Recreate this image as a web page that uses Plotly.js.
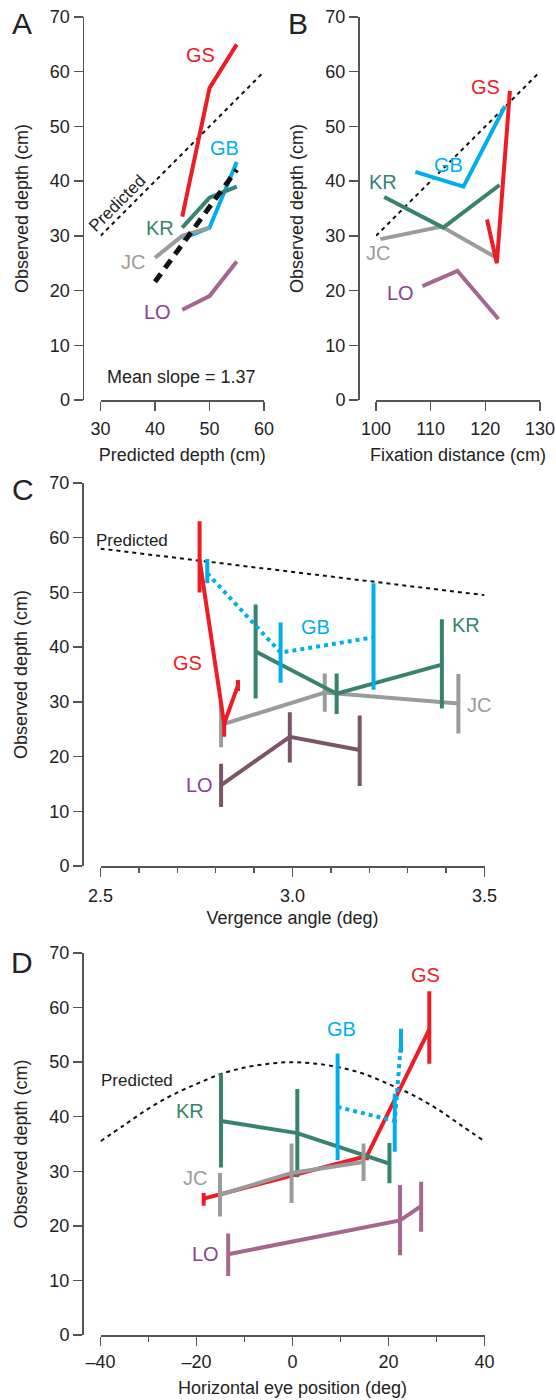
<!DOCTYPE html>
<html>
<head>
<meta charset="utf-8">
<script src="https://cdn.plot.ly/plotly-3.0.1.min.js"></script>
<style>html,body{margin:0;padding:0;background:#fff}#chart{width:556px;height:1400px}</style>
</head>
<body>
<div id="chart"></div>
<script>
// ---------- Panel A: observed vs predicted depth ----------
const aPredX = [30, 60];
const aPredY = [30, 60];
const aMeanX = [40, 55];
const aMeanY = [21.6, 42.1];
const aGSx = [45, 50, 55];   const aGSy = [33.5, 57, 65];
const aGBx = [45, 50, 55];   const aGBy = [29.5, 31.5, 43.5];
const aKRx = [45, 50, 55];   const aKRy = [31.5, 37, 39];
const aJCx = [40, 45, 50];   const aJCy = [26, 30, 31.5];
const aLOx = [45, 50, 55];   const aLOy = [16.5, 19, 25.3];
const aTicks = [30, 40, 50, 60];

// ---------- Panel B: observed depth vs fixation distance ----------
const bPredX = [100, 130];
const bPredY = [30, 60];
const bGSx = [120.3, 122.1, 124.5]; const bGSy = [33, 25, 56.5];
const bGBx = [107.2, 116, 123.6];   const bGBy = [41.7, 39, 53.7];
const bKRx = [101.5, 112.3, 122.6]; const bKRy = [37.1, 31.5, 39.3];
const bJCx = [100.8, 112, 122.4];   const bJCy = [29.4, 31.7, 25.8];
const bLOx = [108.5, 114.9, 122.4]; const bLOy = [20.8, 23.6, 14.8];
const bTicks = [100, 110, 120, 130];

// ---------- Panel C: observed depth vs vergence angle ----------
const cPredX = [2.5, 3.5];
const cPredY = [58, 49.5];
const cGSx = [2.758, 2.822, 2.858]; const cGSy = [56, 26, 33];    const cGSp = [7, 1.3, 1];   const cGSm = [6, 2.4, 1];
const cGBx = [2.778, 2.969, 3.211]; const cGBy = [53.5, 39, 41.8]; const cGBp = [2.6, 5.5, 9.9]; const cGBm = [1.8, 5.5, 9.6];
const cKRx = [2.904, 3.115, 3.389]; const cKRy = [39.2, 31.5, 36.8]; const cKRp = [8.6, 3.7, 8.3]; const cKRm = [8.6, 3.7, 8];
const cJCx = [2.814, 3.084, 3.432]; const cJCy = [25.8, 31.7, 29.7]; const cJCp = [4, 3.5, 5.4]; const cJCm = [4.1, 3.5, 5.5];
const cLOx = [2.814, 2.993, 3.175]; const cLOy = [14.8, 23.6, 21.2]; const cLOp = [3.9, 4.5, 6.3]; const cLOm = [4, 4.7, 6.6];
const cTicks = [2.5, 3.0, 3.5];
const cTickText = ['2.5', '3.0', '3.5'];

// ---------- Panel D: observed depth vs horizontal eye position ----------
const dPredX = [-40, -35, -30, -25, -20, -15, -10, -5, 0, 5, 10, 15, 20, 25, 30, 35, 40];
const dPredY = [35.5, 38.5, 41.5, 44, 46, 47.8, 49, 49.7, 50, 49.7, 49, 47.8, 46, 44, 41.5, 38.5, 35.5];
const dGSx = [-18.5, 15.5, 28.5];  const dGSy = [25, 32.8, 56];    const dGSp = [1, 0.5, 7];   const dGSm = [1.3, 0.8, 6.3];
const dGBx = [9.4, 21.3, 22.6];    const dGBy = [41.8, 39.2, 53.5]; const dGBp = [9.8, 5, 2.6]; const dGBm = [9.8, 5.6, 1.8];
const dKRx = [-14.9, 1.0, 20.2];   const dKRy = [39.2, 37, 31.4];   const dKRp = [8.7, 8.1, 3.8]; const dKRm = [8.5, 8.1, 3.6];
const dJCx = [-15.1, -0.2, 14.8];  const dJCy = [25.7, 29.7, 31.7]; const dJCp = [4, 5.4, 3.4]; const dJCm = [4, 5.5, 3.5];
const dLOx = [-13.4, 22.4, 26.8];  const dLOy = [14.8, 21, 23.6];   const dLOp = [3.8, 6.5, 4.5]; const dLOm = [4, 6.4, 4.7];
const dTicks = [-40, -20, 0, 20, 40];
const dTickText = ['\u201340', '\u201320', '0', '20', '40'];

const yTicks = [0, 10, 20, 30, 40, 50, 60, 70];

// ---------- styling ----------
const RED = '#ee1c25', BLUE = '#00aeef', GREEN = '#37836f', GRAY = '#9b9b9b';
const LO_LINE = '#a5678f', LO_LINE_C = '#7b5567', LO_TEXT = '#86438f';
const W = 556, H = 1400;
const px = x => x / W;
const py = y => 1 - y / H;
const FONT = 'Liberation Sans, Arial, Helvetica, sans-serif';

function ln(x, y, color, xa, ya, extra) {
  const t = {type: 'scatter', mode: 'lines', x: x, y: y, xaxis: xa, yaxis: ya,
    line: {color: color, width: 4}, hoverinfo: 'skip', showlegend: false};
  return Object.assign(t, extra || {});
}
function lnErr(x, y, p, m, color, xa, ya, extra) {
  const t = ln(x, y, color, xa, ya, extra);
  t.error_y = {type: 'data', symmetric: false, array: p, arrayminus: m,
    color: color, thickness: 4, width: 0};
  return t;
}
const predLine = {color: '#111', width: 2, dash: '4px,4px'};

const traces = [
  // A
  ln(aPredX, aPredY, '#111', 'x', 'y', {line: predLine}),
  ln(aLOx, aLOy, LO_LINE, 'x', 'y'),
  ln(aGBx, aGBy, BLUE, 'x', 'y'),
  ln(aKRx, aKRy, GREEN, 'x', 'y'),
  ln(aJCx, aJCy, GRAY, 'x', 'y'),
  ln(aGSx, aGSy, RED, 'x', 'y'),
  ln(aMeanX, aMeanY, '#111', 'x', 'y', {line: {color: '#111', width: 5, dash: '10px,7px'}}),
  // B
  ln(bPredX, bPredY, '#111', 'x2', 'y2', {line: predLine}),
  ln(bLOx, bLOy, LO_LINE, 'x2', 'y2'),
  ln(bJCx, bJCy, GRAY, 'x2', 'y2'),
  ln(bKRx, bKRy, GREEN, 'x2', 'y2'),
  ln(bGBx, bGBy, BLUE, 'x2', 'y2'),
  ln(bGSx, bGSy, RED, 'x2', 'y2'),
  // C
  ln(cPredX, cPredY, '#111', 'x3', 'y3', {line: predLine}),
  lnErr(cLOx, cLOy, cLOp, cLOm, LO_LINE_C, 'x3', 'y3'),
  lnErr(cJCx, cJCy, cJCp, cJCm, GRAY, 'x3', 'y3'),
  lnErr(cKRx, cKRy, cKRp, cKRm, GREEN, 'x3', 'y3'),
  lnErr(cGBx, cGBy, cGBp, cGBm, BLUE, 'x3', 'y3', {line: {color: BLUE, width: 4, dash: '4px,4px'}}),
  lnErr(cGSx, cGSy, cGSp, cGSm, RED, 'x3', 'y3'),
  // D
  ln(dPredX, dPredY, '#111', 'x4', 'y4', {line: Object.assign({shape: 'spline'}, predLine)}),
  lnErr(dLOx, dLOy, dLOp, dLOm, LO_LINE, 'x4', 'y4'),
  lnErr(dGSx, dGSy, dGSp, dGSm, RED, 'x4', 'y4'),
  lnErr(dKRx, dKRy, dKRp, dKRm, GREEN, 'x4', 'y4'),
  lnErr(dJCx, dJCy, dJCp, dJCm, GRAY, 'x4', 'y4'),
  lnErr(dGBx, dGBy, dGBp, dGBm, BLUE, 'x4', 'y4', {line: {color: BLUE, width: 4, dash: '4px,4px'}})
];

const axisBase = {
  ticks: 'outside', ticklen: 9, tickwidth: 1.5, tickcolor: '#555',
  showline: true, linecolor: '#555', linewidth: 1.5,
  showgrid: false, zeroline: false, fixedrange: true,
  tickfont: {family: FONT, size: 18, color: '#222'}
};
const titleFont = {family: FONT, size: 18, color: '#222'};

function yAxis(top, bottom, xpos) {
  return Object.assign({}, axisBase, {
    domain: [py(bottom), py(top)], range: [0, 70], tickmode: 'array', tickvals: yTicks,
    anchor: 'free', position: px(xpos),
    title: {text: 'Observed depth (cm)', font: titleFont, standoff: 15}
  });
}

const layout = {
  width: W, height: H,
  margin: {l: 0, r: 0, t: 0, b: 0},
  paper_bgcolor: '#fff', plot_bgcolor: 'rgba(0,0,0,0)',
  showlegend: false,
  font: {family: FONT, color: '#222'},
  xaxis: Object.assign({}, axisBase, {domain: [px(100.5), px(264)], anchor: 'y', range: [30, 60],
    tickmode: 'array', tickvals: aTicks, ticklabelstandoff: 3,
    title: {text: 'Predicted depth (cm)', font: titleFont, standoff: 10}}),
  yaxis: yAxis(17, 400, 82.5),
  xaxis2: Object.assign({}, axisBase, {domain: [px(376), px(540)], anchor: 'y2', range: [100, 130],
    tickmode: 'array', tickvals: bTicks, ticklabelstandoff: 3,
    title: {text: 'Fixation distance (cm)', font: titleFont, standoff: 10}}),
  yaxis2: yAxis(17, 400, 358),
  xaxis3: Object.assign({}, axisBase, {domain: [px(100.5), px(484.5)], anchor: 'y3', range: [2.5, 3.5],
    tickmode: 'array', tickvals: cTicks, ticktext: cTickText, ticklabelstandoff: 4,
    minor: {tickmode: 'linear', tick0: 2.5, dtick: 0.1, ticks: 'outside', ticklen: 5, tickwidth: 1.5, tickcolor: '#555', showgrid: false},
    title: {text: 'Vergence angle (deg)', font: titleFont, standoff: 6}}),
  yaxis3: yAxis(483, 866, 82),
  xaxis4: Object.assign({}, axisBase, {domain: [px(100.5), px(484.5)], anchor: 'y4', range: [-40, 40],
    tickmode: 'array', tickvals: dTicks, ticktext: dTickText, ticklabelstandoff: 1,
    minor: {tickmode: 'linear', tick0: -40, dtick: 10, ticks: 'outside', ticklen: 5, tickwidth: 1.5, tickcolor: '#555', showgrid: false},
    title: {text: 'Horizontal eye position (deg)', font: titleFont, standoff: 10}}),
  yaxis4: yAxis(953, 1335, 82),
  annotations: []
};

function note(text, x, y, color, size, extra) {
  layout.annotations.push(Object.assign({
    text: text, xref: 'paper', yref: 'paper', x: px(x), y: py(y),
    xanchor: 'center', yanchor: 'middle', showarrow: false,
    font: {family: FONT, size: size, color: color}
  }, extra || {}));
}

// panel letters
note('A', 22, 23, '#222', 30);
note('B', 298, 23, '#222', 30);
note('C', 22.5, 489, '#222', 30);
note('D', 21.5, 962, '#222', 30);

// A labels
note('GS', 200, 55, RED, 20);
note('GB', 224, 148, BLUE, 20);
note('KR', 160, 228, GREEN, 20);
note('JC', 133, 262, GRAY, 20);
note('LO', 157, 312, LO_TEXT, 20);
note('Mean slope = 1.37', 181, 377, '#222', 18);
note('Predicted', 117, 203, '#222', 17, {textangle: -45});

// B labels
note('GS', 485, 87, RED, 20);
note('GB', 448, 165, BLUE, 20);
note('KR', 383, 182, GREEN, 20);
note('JC', 378, 253, GRAY, 20);
note('LO', 400, 293, LO_TEXT, 20);

// C labels
note('Predicted', 131.5, 540, '#222', 17);
note('GS', 187, 663, RED, 20);
note('GB', 315, 627, BLUE, 20);
note('KR', 466, 625, GREEN, 20);
note('JC', 479, 705, GRAY, 20);
note('LO', 199, 785, LO_TEXT, 20);

// D labels
note('Predicted', 137, 1080, '#222', 17);
note('GS', 425.5, 975, RED, 20);
note('GB', 341, 1029, BLUE, 20);
note('KR', 190, 1111, GREEN, 20);
note('JC', 194.5, 1178, GRAY, 20);
note('LO', 206, 1254, LO_TEXT, 20);

Plotly.newPlot('chart', traces, layout, {displayModeBar: false, staticPlot: true});
</script>
</body>
</html>
